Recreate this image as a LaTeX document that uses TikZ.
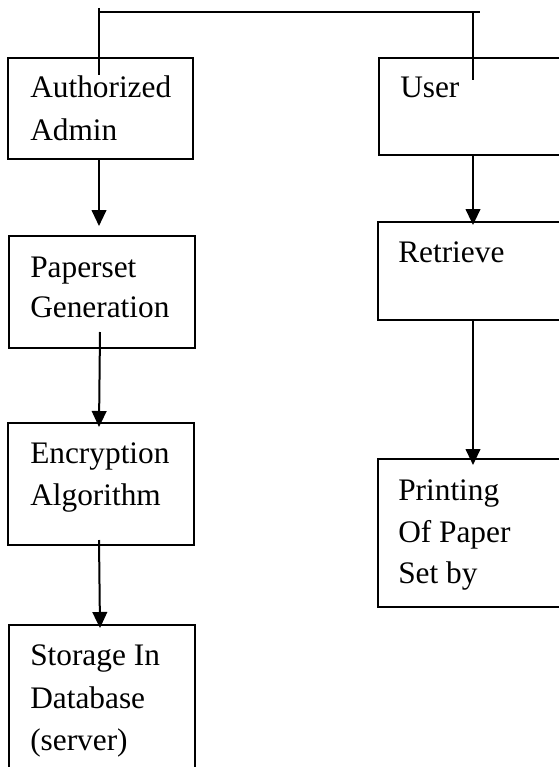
\documentclass[tikz,border=0pt]{standalone}
\usepackage{fontspec}
\setmainfont{Liberation Serif}
\usetikzlibrary{arrows.meta}
\tikzset{
  box/.style={draw, line width=1.5pt, rectangle, inner sep=0pt},
  lbl/.style={anchor=base west, inner sep=0pt, font=\fontsize{23.5pt}{28pt}\selectfont},
  link/.style={line width=1.5pt},
  arr/.style={line width=1.5pt, -{Triangle[length=12pt,width=11pt]}}
}
\begin{document}
\begin{tikzpicture}[x=0.75pt,y=-0.75pt]
\useasboundingbox (0,0) rectangle (559,767);
\clip (0,0) rectangle (559,767);
% boxes
\node[box, minimum width=185*0.75pt, minimum height=101*0.75pt] (admin) at (100.5,108.5) {};
\node[box, minimum width=200*0.75pt, minimum height=97*0.75pt] (user) at (479,106.5) {};
\node[box, minimum width=186*0.75pt, minimum height=112*0.75pt] (paper) at (102,292) {};
\node[box, minimum width=186*0.75pt, minimum height=122*0.75pt] (enc) at (101,484) {};
\node[box, minimum width=186*0.75pt, minimum height=175*0.75pt] (stor) at (102,712.5) {};
\node[box, minimum width=200*0.75pt, minimum height=98*0.75pt] (retr) at (478,271) {};
\node[box, minimum width=200*0.75pt, minimum height=148*0.75pt] (print) at (478,533) {};
% texts
\node[lbl] (t1) at (30,98) {Authorized};
\node[lbl] (t2) at (30,140) {Admin};
\node[lbl] (t3) at (400,98) {User};
\node[lbl] (t4) at (30,277) {Paperset};
\node[lbl] (t5) at (30,317) {Generation};
\node[lbl] (t6) at (30,463) {Encryption};
\node[lbl] (t7) at (30,505) {Algorithm};
\node[lbl] (t8) at (30,665) {Storage In};
\node[lbl] (t9) at (30,708) {Database};
\node[lbl] (t10) at (30,750) {(server)};
\node[lbl] (t11) at (398,262) {Retrieve};
\node[lbl] (t12) at (398,500) {Printing};
\node[lbl] (t13) at (398,542) {Of Paper};
\node[lbl] (t14) at (398,583) {Set by};
% top connector
\coordinate (tl) at (99,8);
\coordinate (tlb) at (99,75);
\coordinate (th1) at (99,12);
\coordinate (th2) at (480,12);
\coordinate (tr) at (473,12);
\coordinate (trb) at (473,80);
\draw[link] (tl) -- (tlb);
\draw[link] (th1) -- (th2);
\draw[link] (tr) -- (trb);
% arrows
\coordinate (a1s) at (99,159);
\coordinate (a1e) at (99,226);
\draw[arr] (a1s) -- (a1e);
\coordinate (a2s) at (100,332);
\coordinate (a2e) at (99,427);
\draw[arr] (a2s) -- (a2e);
\coordinate (a3s) at (99,540);
\coordinate (a3e) at (100,628);
\draw[arr] (a3s) -- (a3e);
\coordinate (a4s) at (473,155);
\coordinate (a4e) at (473,225);
\draw[arr] (a4s) -- (a4e);
\coordinate (a5s) at (473,320);
\coordinate (a5e) at (473,465);
\draw[arr] (a5s) -- (a5e);
\end{tikzpicture}
\end{document}
